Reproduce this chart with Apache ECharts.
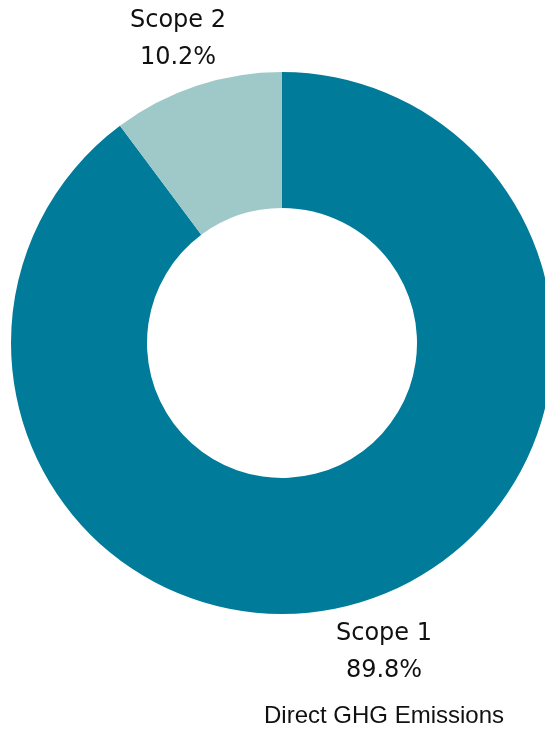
<!DOCTYPE html>
<html><head><meta charset="utf-8">
<script src="https://cdn.jsdelivr.net/npm/echarts@6/dist/echarts.min.js"></script>
<style>html,body{margin:0;padding:0;background:#fff}#c{width:545px;height:734px}</style>
</head><body><div id="c"></div>
<script>
const categories = ['Scope 1', 'Scope 2'];
const values = [89.8, 10.2];
const colors = ['#007B99', '#9FC8C9'];
const titleText = 'Direct GHG Emissions';

const labelSpots = [[384, 652], [178, 39]];

const chart = echarts.init(document.getElementById('c'), null, {renderer: 'canvas'});
chart.setOption({
  animation: false,
  backgroundColor: '#ffffff',
  graphic: [{
    type: 'text', x: 384, y: 716, style: {
      text: titleText, align: 'center', verticalAlign: 'middle',
      font: '24px "Liberation Sans", Arial, sans-serif', fill: '#111'
    }
  }],
  series: [{
    type: 'pie',
    center: [282, 343],
    radius: [135, 271],
    startAngle: 90,
    clockwise: true,
    silent: true,
    label: {
      show: true,
      position: 'outside',
      formatter: '{b}\n{c}%',
      fontFamily: 'DejaVu Sans',
      fontSize: 24,
      lineHeight: 37,
      color: '#111',
      align: 'center'
    },
    labelLine: {show: false},
    labelLayout: function (p) {
      const s = labelSpots[p.dataIndex];
      return {x: s[0], y: s[1], align: 'center', verticalAlign: 'middle'};
    },
    data: categories.map((c, i) => ({name: c, value: values[i], itemStyle: {color: colors[i]}}))
  }]
});
</script></body></html>
